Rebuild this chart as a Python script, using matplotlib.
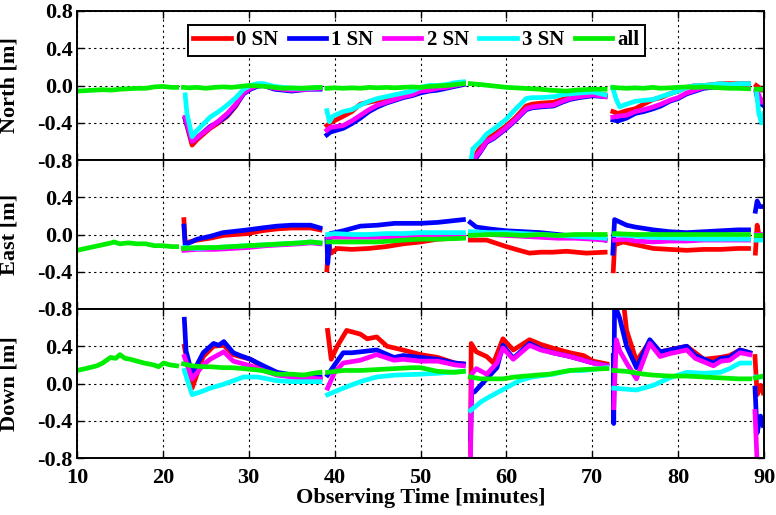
import numpy as np
import matplotlib
matplotlib.use("Agg")
import matplotlib.pyplot as plt

N = None
series_labels = ["0 SN", "1 SN", "2 SN", "3 SN", "all"]
series_colors = ["#ff0000", "#0000ff", "#ff00ff", "#00ffff", "#00ee00"]
x_ticks = [10, 20, 30, 40, 50, 60, 70, 80, 90]
panel_names = ["North [m]", "East [m]", "Down [m]"]

# ---------------- North ----------------
N_red_t = [22.6, 23.4, 24, 25.5, 26.5, 27.5, 28.5, 29.4, 30.2, 31, 31.7, 33, 35, 37, 38.3, N,
           39.1, 39.5, 41, 42, 43, 44, 45, 46, 47, 48, 49, 50, 51, 52, 53, 54, 55, N,
           55.8, 56.3, 57, 57.7, 58.5, 59.9, 61, 62.3, 63, 64, 65.5, 66.5, 67.4, 68.5, 70.1, 71.5, N,
           72.4, 73, 74, 75, 76, 77.1, 78, 79, 80, 81, 82, 83, 84, 85, 86, 87, 88.2, N,
           89.1, 89.4, 89.7, 90]
N_red_v = [-0.36, -0.64, -0.58, -0.46, -0.40, -0.33, -0.22, -0.08, -0.03, 0.0, 0.01, -0.02, -0.04, -0.03, -0.03, N,
           -0.43, -0.40, -0.33, -0.28, -0.20, -0.18, -0.16, -0.14, -0.12, -0.10, -0.08, -0.05, -0.03, -0.01, 0.0, 0.02, 0.03, N,
           -0.90, -0.76, -0.66, -0.58, -0.53, -0.44, -0.35, -0.22, -0.20, -0.19, -0.18, -0.15, -0.12, -0.10, -0.08, -0.10, N,
           -0.28, -0.30, -0.27, -0.25, -0.20, -0.15, -0.13, -0.09, -0.06, -0.02, 0.0, 0.0, 0.01, 0.02, 0.02, 0.02, 0.02, N,
           0.0, -0.02, -0.05, -0.05]
N_blue_t = N_red_t
N_blue_v = [-0.36, -0.60, -0.56, -0.44, -0.39, -0.32, -0.21, -0.09, -0.04, -0.01, 0.0, -0.04, -0.06, -0.04, -0.04, N,
            -0.53, -0.50, -0.46, -0.41, -0.35, -0.28, -0.23, -0.19, -0.16, -0.13, -0.11, -0.08, -0.06, -0.05, -0.03, -0.01, 0.01, N,
            -0.97, -0.80, -0.71, -0.61, -0.57, -0.47, -0.38, -0.26, -0.24, -0.23, -0.22, -0.18, -0.15, -0.13, -0.11, -0.12, N,
            -0.37, -0.38, -0.35, -0.30, -0.28, -0.25, -0.22, -0.17, -0.14, -0.09, -0.06, -0.03, -0.02, -0.01, -0.01, 0.0, -0.01, N,
            -0.08, -0.20, -0.20, -0.22]
N_mag_t = N_red_t
N_mag_v = [-0.34, -0.60, -0.56, -0.45, -0.38, -0.30, -0.20, -0.08, -0.03, 0.0, 0.0, -0.03, -0.05, -0.04, -0.03, N,
           -0.48, -0.45, -0.43, -0.38, -0.32, -0.26, -0.21, -0.18, -0.15, -0.12, -0.10, -0.06, -0.05, -0.03, -0.02, 0.0, 0.02, N,
           -0.95, -0.78, -0.70, -0.60, -0.56, -0.46, -0.37, -0.25, -0.23, -0.22, -0.21, -0.17, -0.14, -0.12, -0.10, -0.12, N,
           -0.34, -0.33, -0.32, -0.28, -0.26, -0.23, -0.20, -0.16, -0.13, -0.08, -0.05, -0.02, -0.01, 0.0, 0.0, 0.0, 0.0, N,
           -0.05, -0.10, -0.18, -0.15]
N_cyan_t = [22.6, 22.8, 23.4, 24, 25.5, 26.5, 27.5, 28.5, 29.4, 30.2, 31, 31.7, 33, 35, 37, 38.3, N,
            39.1, 39.4, 39.8, 41, 42, 43, 44, 45, 46, 47, 48, 49, 50, 51, 52, 53, 54, 55, N,
            55.8, 56.1, 57, 57.7, 58.5, 59.9, 61, 62.3, 63, 64, 65.5, 66.5, 67.4, 68.5, 70.1, 71.5, N,
            72.4, 72.8, 73.2, 74, 75, 76, 77.1, 78, 79, 80, 81, 82, 83, 84, 85, 86, 87, 88.2, N,
            89.1, 89.4, 89.7, 90]
N_cyan_v = [-0.10, -0.30, -0.55, -0.48, -0.34, -0.28, -0.21, -0.13, -0.04, 0.0, 0.02, 0.02, -0.01, -0.03, -0.03, -0.02, N,
            -0.27, -0.39, -0.33, -0.28, -0.26, -0.21, -0.17, -0.14, -0.12, -0.10, -0.08, -0.06, -0.02, 0.0, 0.0, 0.01, 0.03, 0.04, N,
            -0.85, -0.68, -0.60, -0.52, -0.47, -0.37, -0.26, -0.14, -0.13, -0.13, -0.12, -0.10, -0.09, -0.08, -0.07, -0.10, N,
            -0.03, -0.15, -0.23, -0.20, -0.17, -0.16, -0.15, -0.12, -0.09, -0.06, -0.02, 0.0, 0.0, 0.01, 0.02, 0.01, 0.02, 0.02, N,
            -0.05, -0.30, -0.40, -0.30]
N_all_t = [10, 11, 12, 13, 14, 15, 16, 17, 18, 19, 20, 21, 21.6, N,
           22.4, 23, 24, 25, 26, 27, 28, 29, 30, 31, 32, 33, 34, 35, 36, 37, 38, 38.3, N,
           39.1, 40, 41, 42, 43, 44, 45, 46, 47, 48, 49, 50, 51, 52, 53, 54, 55, N,
           55.8, 57, 58, 59, 60, 61, 62, 63, 64, 65, 66, 67, 68, 69, 70, 71, 71.5, N,
           72.4, 73, 74, 75, 76, 77, 78, 79, 80, 81, 82, 83, 84, 85, 86, 87, 88.2, N,
           89.1, 90]
N_all_v = [-0.06, -0.055, -0.05, -0.045, -0.05, -0.04, -0.035, -0.03, -0.03, -0.015, -0.01, -0.02, -0.02, N,
           -0.02, -0.025, -0.02, -0.03, -0.02, -0.015, -0.02, -0.01, 0.0, -0.005, -0.01, -0.02, -0.03, -0.025, -0.03, -0.025, -0.02, -0.02, N,
           -0.03, -0.025, -0.03, -0.025, -0.03, -0.02, -0.025, -0.02, -0.025, -0.02, -0.015, -0.02, -0.01, -0.005, 0.0, 0.01, 0.02, N,
           0.02, 0.01, 0.0, -0.01, -0.02, -0.025, -0.03, -0.035, -0.04, -0.05, -0.055, -0.06, -0.05, -0.045, -0.04, -0.04, -0.04, N,
           -0.02, -0.025, -0.03, -0.025, -0.03, -0.02, -0.03, -0.025, -0.02, -0.015, -0.02, -0.015, -0.02, -0.025, -0.03, -0.03, -0.035, N,
           -0.04, -0.04]

# ---------------- East ----------------
E_red_t = [22.45, 22.6, 24, 25.5, 27, 29.9, 31.5, 33.3, 35, 37.2, 38.3, N,
           39.1, 39.3, 39.6, 40.3, 42, 44, 46, 48, 50, 52, 54, 55, N,
           55.8, 57.7, 60, 61.5, 62.7, 64, 65.4, 67, 69.3, 71.5, N,
           72.45, 72.6, 73.6, 75.1, 77.1, 79, 81, 83, 85, 87, 88.2, N,
           89.0, 89.2, 89.5, 90]
E_red_v = [0.16, -0.09, -0.06, -0.04, -0.01, 0.01, 0.04, 0.06, 0.07, 0.07, 0.05, N,
           -0.38, -0.10, -0.20, -0.15, -0.16, -0.15, -0.13, -0.10, -0.08, -0.05, -0.04, -0.03, N,
           -0.06, -0.06, -0.13, -0.17, -0.20, -0.19, -0.19, -0.18, -0.20, -0.19, N,
           -0.39, -0.11, -0.08, -0.11, -0.15, -0.16, -0.17, -0.16, -0.16, -0.15, -0.15, N,
           -0.20, 0.10, -0.05, -0.05]
E_blue_t = [22.45, 22.6, 24, 25.5, 27, 29.9, 31.5, 33.3, 35, 37.2, 38.3, N,
            39.1, 39.2, 39.5, 41, 43, 45, 47, 49, 50, 52, 54, 55, N,
            55.8, 56.5, 58, 60, 62, 64, 66, 68, 70, 71.5, N,
            72.4, 72.6, 74, 75, 77.1, 79, 81, 83, 85, 87, 88.2, N,
            89.0, 89.2, 89.5, 90]
E_blue_v = [0.09, -0.11, -0.05, -0.02, 0.02, 0.05, 0.07, 0.09, 0.10, 0.10, 0.07, N,
            -0.05, -0.31, 0.01, 0.04, 0.09, 0.10, 0.12, 0.12, 0.12, 0.13, 0.15, 0.16, N,
            0.13, 0.08, 0.06, 0.04, 0.03, 0.02, 0.0, -0.02, -0.04, -0.06, N,
            -0.20, 0.16, 0.10, 0.08, 0.05, 0.03, 0.02, 0.03, 0.04, 0.05, 0.05, N,
            0.25, 0.36, 0.30, 0.30]
E_mag_t = [22.45, 24, 26, 28, 29.9, 32, 34, 36, 37.2, 38.3, N,
           39.2, 42, 45, 48, 50, 52, 55, N,
           55.8, 58, 60, 62, 64, 66, 68, 70, 71.5, N,
           72.6, 74, 75, 77.1, 79, 81, 83, 85, 88.2, N,
           89.1, 90]
E_mag_v = [-0.17, -0.16, -0.16, -0.15, -0.14, -0.12, -0.11, -0.10, -0.09, -0.10, N,
           -0.03, -0.03, -0.03, -0.02, -0.01, -0.01, -0.01, N,
           0.0, 0.0, -0.01, -0.02, -0.03, -0.04, -0.04, -0.05, -0.06, N,
           -0.06, -0.05, -0.07, -0.08, -0.07, -0.07, -0.06, -0.06, -0.06, N,
           0.0, 0.0]
E_cyan_t = [22.45, 24, 26, 28, 29.9, 32, 34, 36, 37.2, 38.3, N,
            39.2, 40, 42, 44, 46, 48, 50, 52, 55, N,
            55.8, 58, 60, 62, 64, 66, 68, 70, 71.5, N,
            72.6, 74, 77, 80, 83, 86, 88.2, N,
            89.1, 90]
E_cyan_v = [-0.14, -0.15, -0.14, -0.13, -0.12, -0.11, -0.10, -0.09, -0.08, -0.09, N,
            0.0, 0.01, 0.0, 0.0, 0.01, 0.01, 0.02, 0.02, 0.02, N,
            0.03, 0.02, 0.02, 0.01, 0.0, -0.01, -0.02, -0.03, -0.04, N,
            0.0, -0.01, -0.03, -0.04, -0.05, -0.05, -0.05, N,
            -0.06, -0.06]
E_all_t = [10, 11, 12, 13, 14, 14.3, 15, 16, 17, 18, 19, 20, 21, 21.6, N,
           22.4, 24, 26, 28, 29.9, 32, 34, 36, 37.2, 38.3, N,
           39.2, 42, 45, 48, 50, 52, 55, N,
           55.8, 58, 60, 62, 64, 66, 68, 70, 71.5, N,
           72.6, 75, 78, 81, 84, 88.2, N,
           89.1, 90]
E_all_v = [-0.17, -0.15, -0.13, -0.11, -0.09, -0.08, -0.10, -0.09, -0.10, -0.10, -0.12, -0.12, -0.13, -0.13, N,
           -0.15, -0.14, -0.14, -0.13, -0.12, -0.11, -0.10, -0.09, -0.08, -0.09, N,
           -0.08, -0.08, -0.08, -0.06, -0.05, -0.05, -0.04, N,
           -0.01, 0.0, 0.0, -0.01, 0.0, -0.01, 0.0, 0.0, 0.0, N,
           0.01, 0.0, 0.0, 0.0, 0.0, 0.0, N,
           -0.01, -0.01]

# ---------------- Down ----------------
D_red_t = [22.5, 23.4, 24.7, 25.9, 27.1, 28.2, 30.2, 31.7, 33.3, 35.2, 36.5, 38.3, N,
           39.18, 39.6, 40.3, 41.4, 42.2, 43, 43.8, 44.9, 46.1, 47.5, 48.8, 50, 52, 54, 55, N,
           55.83, 55.9, 56.5, 57.7, 58.5, 59.6, 60.8, 61.5, 62.7, 64, 65.4, 67.4, 69, 70.1, 71.7, N,
           72.45, 73.6, 74, 75.15, 76.7, 77.9, 79, 81, 83, 84.9, 86, 87.2, 88.35, N,
           88.95, 89.2, 89.6, 89.9]
D_red_v = [0.40, -0.05, 0.29, 0.40, 0.41, 0.31, 0.26, 0.17, 0.10, 0.07, 0.06, 0.05, N,
           0.57, 0.26, 0.40, 0.57, 0.55, 0.53, 0.48, 0.50, 0.40, 0.37, 0.34, 0.31, 0.28, 0.22, 0.21, N,
           -0.74, 0.43, 0.34, 0.29, 0.22, 0.48, 0.36, 0.40, 0.47, 0.42, 0.38, 0.33, 0.30, 0.24, 0.21, N,
           0.85, 0.90, 0.57, 0.24, 0.45, 0.34, 0.36, 0.40, 0.26, 0.28, 0.30, 0.36, 0.33, N,
           0.29, -0.12, -0.02, -0.10]
D_blue_t = [22.5, 22.7, 23.4, 24.7, 25.9, 26.5, 27.1, 28.2, 29, 30.2, 31.7, 33.3, 35.2, 36.5, 38.3, N,
            39.18, 40, 41, 42, 43, 44.9, 46.9, 48, 50, 52, 54, 55, N,
            55.83, 55.95, 56.3, 57.7, 58.9, 59.6, 60.8, 62.7, 64, 65.4, 67.4, 70.1, 71.7, N,
            72.45, 72.5, 72.6, 73.2, 74, 75.15, 76.7, 77.9, 79, 81, 82, 84.1, 85, 86, 87.2, 88.35, N,
            88.95, 89.2, 89.6, 89.9]
D_blue_v = [0.69, 0.35, 0.10, 0.33, 0.43, 0.41, 0.45, 0.33, 0.30, 0.26, 0.19, 0.12, 0.09, 0.07, 0.07, N,
            0.09, 0.20, 0.33, 0.33, 0.34, 0.36, 0.28, 0.30, 0.28, 0.26, 0.22, 0.21, N,
            -0.60, -0.10, -0.09, 0.05, 0.17, 0.41, 0.27, 0.43, 0.37, 0.33, 0.29, 0.22, 0.19, N,
            0.30, -0.43, 0.85, 0.70, 0.40, 0.17, 0.47, 0.34, 0.36, 0.40, 0.30, 0.22, 0.27, 0.28, 0.36, 0.33, N,
            -0.05, -0.53, -0.35, -0.45]
D_mag_t = [22.5, 23.4, 24.7, 25.5, 27.1, 28.2, 30.2, 31.7, 33.3, 35.2, 38.3, N,
           39.18, 40, 41, 43, 44.9, 46.9, 48, 50, 52, 54, 55, N,
           55.83, 55.95, 56.5, 57.7, 58.9, 59.6, 60.8, 62.7, 64, 65.4, 67.4, 70.1, 71.7, N,
           72.5, 72.8, 73.2, 74, 75.15, 76.7, 77.9, 79, 81, 82, 84.1, 85, 86, 87.2, 88.35, N,
           88.95, 89.2, 89.9]
D_mag_v = [0.29, 0.05, 0.20, 0.26, 0.34, 0.24, 0.19, 0.14, 0.09, 0.07, 0.05, N,
           -0.05, 0.12, 0.22, 0.25, 0.31, 0.25, 0.26, 0.24, 0.24, 0.20, 0.19, N,
           -0.78, 0.10, 0.16, 0.10, 0.22, 0.38, 0.26, 0.41, 0.36, 0.33, 0.29, 0.22, 0.19, N,
           -0.26, 0.47, 0.35, 0.22, 0.05, 0.43, 0.29, 0.32, 0.36, 0.27, 0.19, 0.24, 0.25, 0.33, 0.31, N,
           -0.30, -0.85, -0.85]
D_cyan_t = [22.5, 23.4, 24.7, 25.5, 27, 29.4, 31, 33.3, 35, 36.5, 38.3, N,
            39.18, 41, 43, 44.9, 47, 50, 52, 55, N,
            55.83, 57, 57.7, 59.9, 61.5, 63, 65.4, 67.4, 69, 71.7, N,
            72.5, 75.15, 77.1, 79, 81, 82.9, 84.9, 86, 87.2, 88.35, N,
            89.0, 89.9]
D_cyan_v = [0.14, -0.12, -0.08, -0.05, -0.01, 0.07, 0.07, 0.03, 0.02, 0.02, 0.02, N,
            -0.12, -0.05, 0.02, 0.07, 0.09, 0.10, 0.11, 0.13, N,
            -0.29, -0.20, -0.16, -0.05, 0.03, 0.07, 0.10, 0.14, 0.14, 0.17, N,
            -0.05, -0.07, -0.02, 0.06, 0.12, 0.11, 0.12, 0.16, 0.22, 0.22, N,
            0.07, 0.07]
D_all_t = [10, 11, 12.3, 13, 13.9, 14.5, 15, 15.6, 16.2, 17, 17.8, 18.9, 19.5, 20.1, 20.8, 21.6, N,
           22.4, 23.4, 24.7, 25.5, 27, 28, 29.4, 30.5, 31.5, 33.3, 35, 36.4, 37.5, 38.3, N,
           39.18, 41, 43, 45, 47, 49, 50, 52, 54, 55, N,
           55.8, 57, 59.6, 61, 63.5, 65, 67.4, 69, 71.7, N,
           72.5, 74, 76, 77.1, 79, 81, 83, 85, 87, 88.35, N,
           89.0, 89.9]
D_all_v = [0.14, 0.16, 0.19, 0.22, 0.28, 0.27, 0.31, 0.27, 0.26, 0.24, 0.22, 0.20, 0.18, 0.22, 0.20, 0.19, N,
           0.21, 0.19, 0.18, 0.18, 0.17, 0.17, 0.16, 0.15, 0.14, 0.10, 0.10, 0.09, 0.11, 0.12, N,
           0.12, 0.14, 0.14, 0.15, 0.16, 0.17, 0.17, 0.13, 0.12, 0.13, N,
           0.07, 0.05, 0.05, 0.07, 0.09, 0.10, 0.14, 0.15, 0.16, N,
           0.14, 0.13, 0.10, 0.09, 0.08, 0.08, 0.07, 0.06, 0.05, 0.05, N,
           0.06, 0.08]

panels = [
    [(N_red_t, N_red_v), (N_blue_t, N_blue_v), (N_mag_t, N_mag_v), (N_cyan_t, N_cyan_v), (N_all_t, N_all_v)],
    [(E_red_t, E_red_v), (E_blue_t, E_blue_v), (E_mag_t, E_mag_v), (E_cyan_t, E_cyan_v), (E_all_t, E_all_v)],
    [(D_red_t, D_red_v), (D_blue_t, D_blue_v), (D_mag_t, D_mag_v), (D_cyan_t, D_cyan_v), (D_all_t, D_all_v)],
]

plt.rcParams['font.family'] = ['Liberation Serif', 'DejaVu Serif']
plt.rcParams['font.weight'] = 'bold'
plt.rcParams['axes.labelweight'] = 'bold'

fig = plt.figure(figsize=(7.76, 5.15), dpi=100)
left, right = 77 / 776, 764 / 776
top, bottom = 1 - 11 / 515, 1 - 458 / 515
h = (top - bottom) / 3
axes = []
for i in range(3):
    ax = fig.add_axes([left, top - (i + 1) * h, right - left, h])
    axes.append(ax)

for i, ax in enumerate(axes):
    lines = []
    for (t, v), lab, col in zip(panels[i], series_labels, series_colors):
        ta = np.array(t, dtype=float)
        va = np.array(v, dtype=float)
        ln, = ax.plot(ta, va, color=col, lw=3.4, label=lab, solid_joinstyle='round')
        lines.append(ln)
    ax.set_xlim(10, 90)
    ax.set_ylim(-0.8, 0.8)
    ax.set_xticks(x_ticks)
    if i == 0:
        ax.set_yticks([-0.8, -0.4, 0.0, 0.4, 0.8])
    else:
        ax.set_yticks([-0.8, -0.4, 0.0, 0.4])
    ax.yaxis.set_major_formatter(matplotlib.ticker.FormatStrFormatter('%.1f'))
    ax.grid(True, color='black', linestyle=(0, (2, 3)), linewidth=0.8)
    ax.tick_params(direction='in', length=5, width=1.0, top=True, right=True,
                   labelsize=16, pad=3)
    ax.tick_params(axis='x', pad=7)
    for sp in ax.spines.values():
        sp.set_linewidth(1.4)
    ax.set_ylabel(panel_names[i], fontsize=16, fontweight='bold')
    if i < 2:
        ax.tick_params(labelbottom=False)
    for lab in ax.get_yticklabels() + ax.get_xticklabels():
        lab.set_fontweight('bold')
    if i == 0:
        leg = ax.legend(handles=lines, loc='upper center', bbox_to_anchor=(0.494, 0.905),
                        ncol=5, fontsize=15, frameon=True, fancybox=False,
                        edgecolor='black', framealpha=1, handlelength=1.8,
                        handletextpad=0.25, columnspacing=0.5, borderpad=0.25,
                        borderaxespad=0)
        leg.get_frame().set_linewidth(1.4)
        for lt in leg.get_texts():
            lt.set_fontweight('bold')

axes[2].set_xlabel('Observing Time [minutes]', fontsize=16, fontweight='bold', labelpad=0)
for ax in axes:
    ax.yaxis.set_label_coords(-0.083, 0.5)

fig.savefig('out.png', dpi=100)
